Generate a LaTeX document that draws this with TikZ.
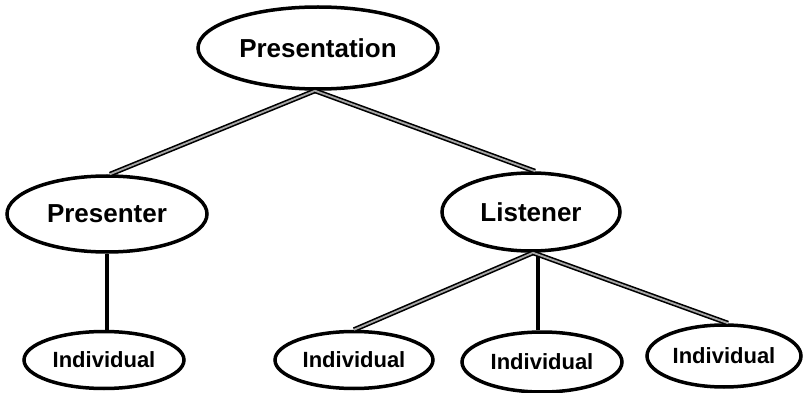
\documentclass[tikz,border=0pt]{standalone}
\usepackage{fontspec}
\setmainfont{Liberation Sans}
\usetikzlibrary{shapes.geometric}
\tikzset{
  oval/.style={ellipse, draw=black, line width=3.5pt, fill=white, inner sep=0pt},
  big/.style={font=\fontsize{26}{30}\selectfont\bfseries},
  small/.style={font=\fontsize{22}{26}\selectfont\bfseries},
  slant/.style={draw=black, line width=1.6pt, double=gray!70, double distance=1.8pt},
  upright/.style={draw=black, line width=4pt},
}
\begin{document}
\begin{tikzpicture}[x=1pt, y=-1pt]
\useasboundingbox (0,0) rectangle (804,393);
% the ovals of the tree
\node[oval, big, minimum width=240pt, minimum height=82pt] (top) at (318,48) {Presentation};
\node[oval, big, minimum width=200pt, minimum height=76pt] (pres) at (107,214) {Presenter};
\node[oval, big, minimum width=178pt, minimum height=78pt] (list) at (531,212) {Listener};
\node[oval, small, minimum width=160pt, minimum height=57pt] (i1) at (104,360) {Individual};
\node[oval, small, minimum width=158pt, minimum height=57pt] (i2) at (354,360) {Individual};
\node[oval, small, minimum width=160pt, minimum height=60pt] (i3) at (542,362) {Individual};
\node[oval, small, minimum width=154pt, minimum height=62pt] (i4) at (724,356) {Individual};
% branches between them
\draw[slant] ([xshift=-3pt]top.south) -- ([xshift=3pt]pres.north);
\draw[slant] ([xshift=-3pt]top.south) -- ([xshift=4pt]list.north);
\draw[upright] (pres.south) -- ([xshift=3pt]i1.north);
\draw[slant] ([xshift=2pt]list.south) -- (i2.north);
\draw[upright] ([xshift=7pt]list.south) -- ([xshift=-4pt]i3.north);
\draw[slant] ([xshift=2pt]list.south) -- ([xshift=4pt]i4.north);
\end{tikzpicture}
\end{document}
